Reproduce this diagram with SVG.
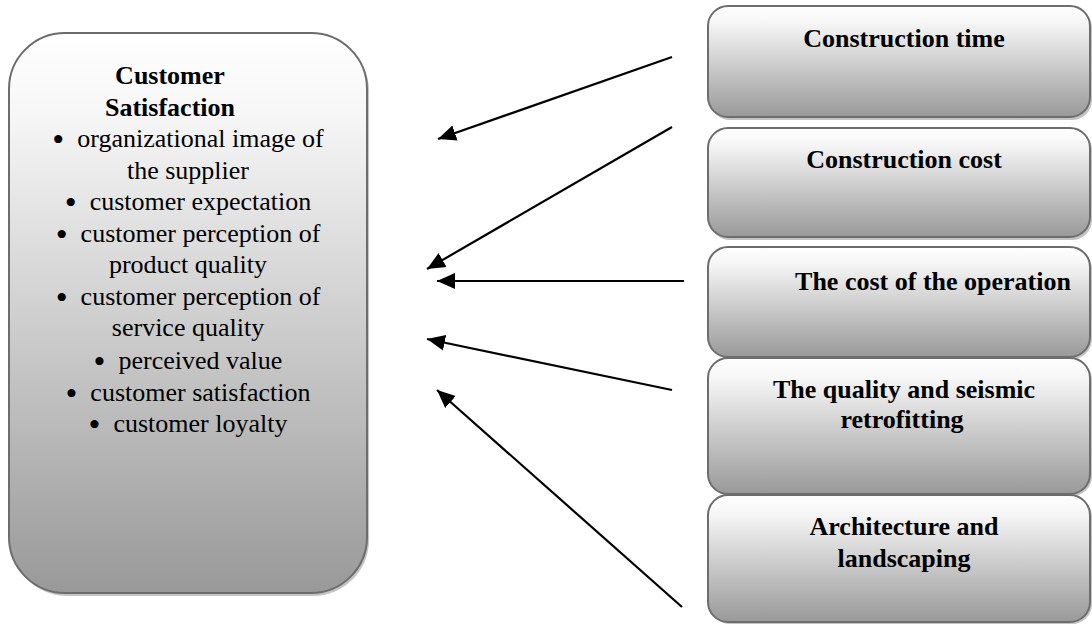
<svg xmlns="http://www.w3.org/2000/svg" width="1092" height="628" viewBox="0 0 1092 628">
<defs>
<linearGradient id="g" x1="0" y1="0" x2="0" y2="1">
<stop offset="0" stop-color="#ffffff"/>
<stop offset="0.15" stop-color="#f6f6f6"/>
<stop offset="1" stop-color="#999999"/>
</linearGradient>
<marker id="ah" markerUnits="userSpaceOnUse" markerWidth="20" markerHeight="18" refX="18" refY="9" orient="auto">
<path d="M0,1 L18,9 L0,17 Z" fill="#000"/>
</marker>
</defs>
<style>
.box{fill:url(#g);stroke:#6d6d6d;stroke-width:2}
.sh{fill:#c4c4c4}
.t{font-family:"Liberation Serif","Times New Roman",serif;font-size:26px;fill:#000;text-anchor:middle}
.b{font-weight:bold}
.bu{font-size:34px}
.c{stroke:#000;stroke-width:2.2;fill:none;marker-end:url(#ah)}
</style>
<rect width="1092" height="628" fill="#fff"/>
<g id="customer-satisfaction">
<rect class="sh" x="11" y="35" width="358" height="561" rx="56"/>
<rect class="box" x="9" y="33" width="358" height="560" rx="56"/>
<text class="t b" x="170" y="84">Customer</text>
<text class="t b" x="170" y="115.5">Satisfaction</text>
<text class="t" x="188" y="147"><tspan class="bu" dy="4">•</tspan><tspan dy="-4">&#160;&#160;organizational image of</tspan></text>
<text class="t" x="188" y="178.5">the supplier</text>
<text class="t" x="188" y="210"><tspan class="bu" dy="4">•</tspan><tspan dy="-4">&#160;&#160;customer expectation</tspan></text>
<text class="t" x="188" y="241.5"><tspan class="bu" dy="4">•</tspan><tspan dy="-4">&#160;&#160;customer perception of</tspan></text>
<text class="t" x="188" y="273">product quality</text>
<text class="t" x="188" y="304.5"><tspan class="bu" dy="4">•</tspan><tspan dy="-4">&#160;&#160;customer perception of</tspan></text>
<text class="t" x="188" y="336">service quality</text>
<text class="t" x="188" y="369"><tspan class="bu" dy="4">•</tspan><tspan dy="-4">&#160;&#160;perceived value</tspan></text>
<text class="t" x="188" y="401"><tspan class="bu" dy="4">•</tspan><tspan dy="-4">&#160;&#160;customer satisfaction</tspan></text>
<text class="t" x="188" y="432"><tspan class="bu" dy="4">•</tspan><tspan dy="-4">&#160;&#160;customer loyalty</tspan></text>
</g>
<g id="construction-time">
<rect class="sh" x="710" y="8" width="382" height="112" rx="20"/>
<rect class="box" x="708" y="6" width="382" height="111" rx="20"/>
<text class="t b" x="904" y="47">Construction time</text>
</g>
<g id="construction-cost">
<rect class="sh" x="710" y="130" width="382" height="110" rx="20"/>
<rect class="box" x="708" y="128" width="382" height="109" rx="20"/>
<text class="t b" x="904" y="168">Construction cost</text>
</g>
<g id="cost-operation">
<rect class="sh" x="710" y="249" width="382" height="110" rx="20"/>
<rect class="box" x="708" y="247" width="382" height="110" rx="20"/>
<text class="t b" x="933" y="290">The cost of the operation</text>
</g>
<g id="quality-seismic">
<rect class="sh" x="710" y="360" width="382" height="136" rx="20"/>
<rect class="box" x="708" y="358" width="382" height="136" rx="20"/>
<text class="t b" x="904" y="398">The quality and seismic</text>
<text class="t b" x="902" y="428">retrofitting</text>
</g>
<g id="architecture">
<rect class="sh" x="710" y="497" width="382" height="127" rx="20"/>
<rect class="box" x="708" y="495" width="382" height="127" rx="20"/>
<text class="t b" x="904" y="535">Architecture and</text>
<text class="t b" x="904" y="567">landscaping</text>
</g>
<g id="connectors">
<line class="c" x1="672" y1="57" x2="438" y2="139"/>
<line class="c" x1="672" y1="127" x2="427" y2="269"/>
<line class="c" x1="684" y1="281" x2="437" y2="281"/>
<line class="c" x1="672" y1="390" x2="427" y2="339"/>
<line class="c" x1="682" y1="607" x2="437" y2="390"/>
</g>
</svg>
